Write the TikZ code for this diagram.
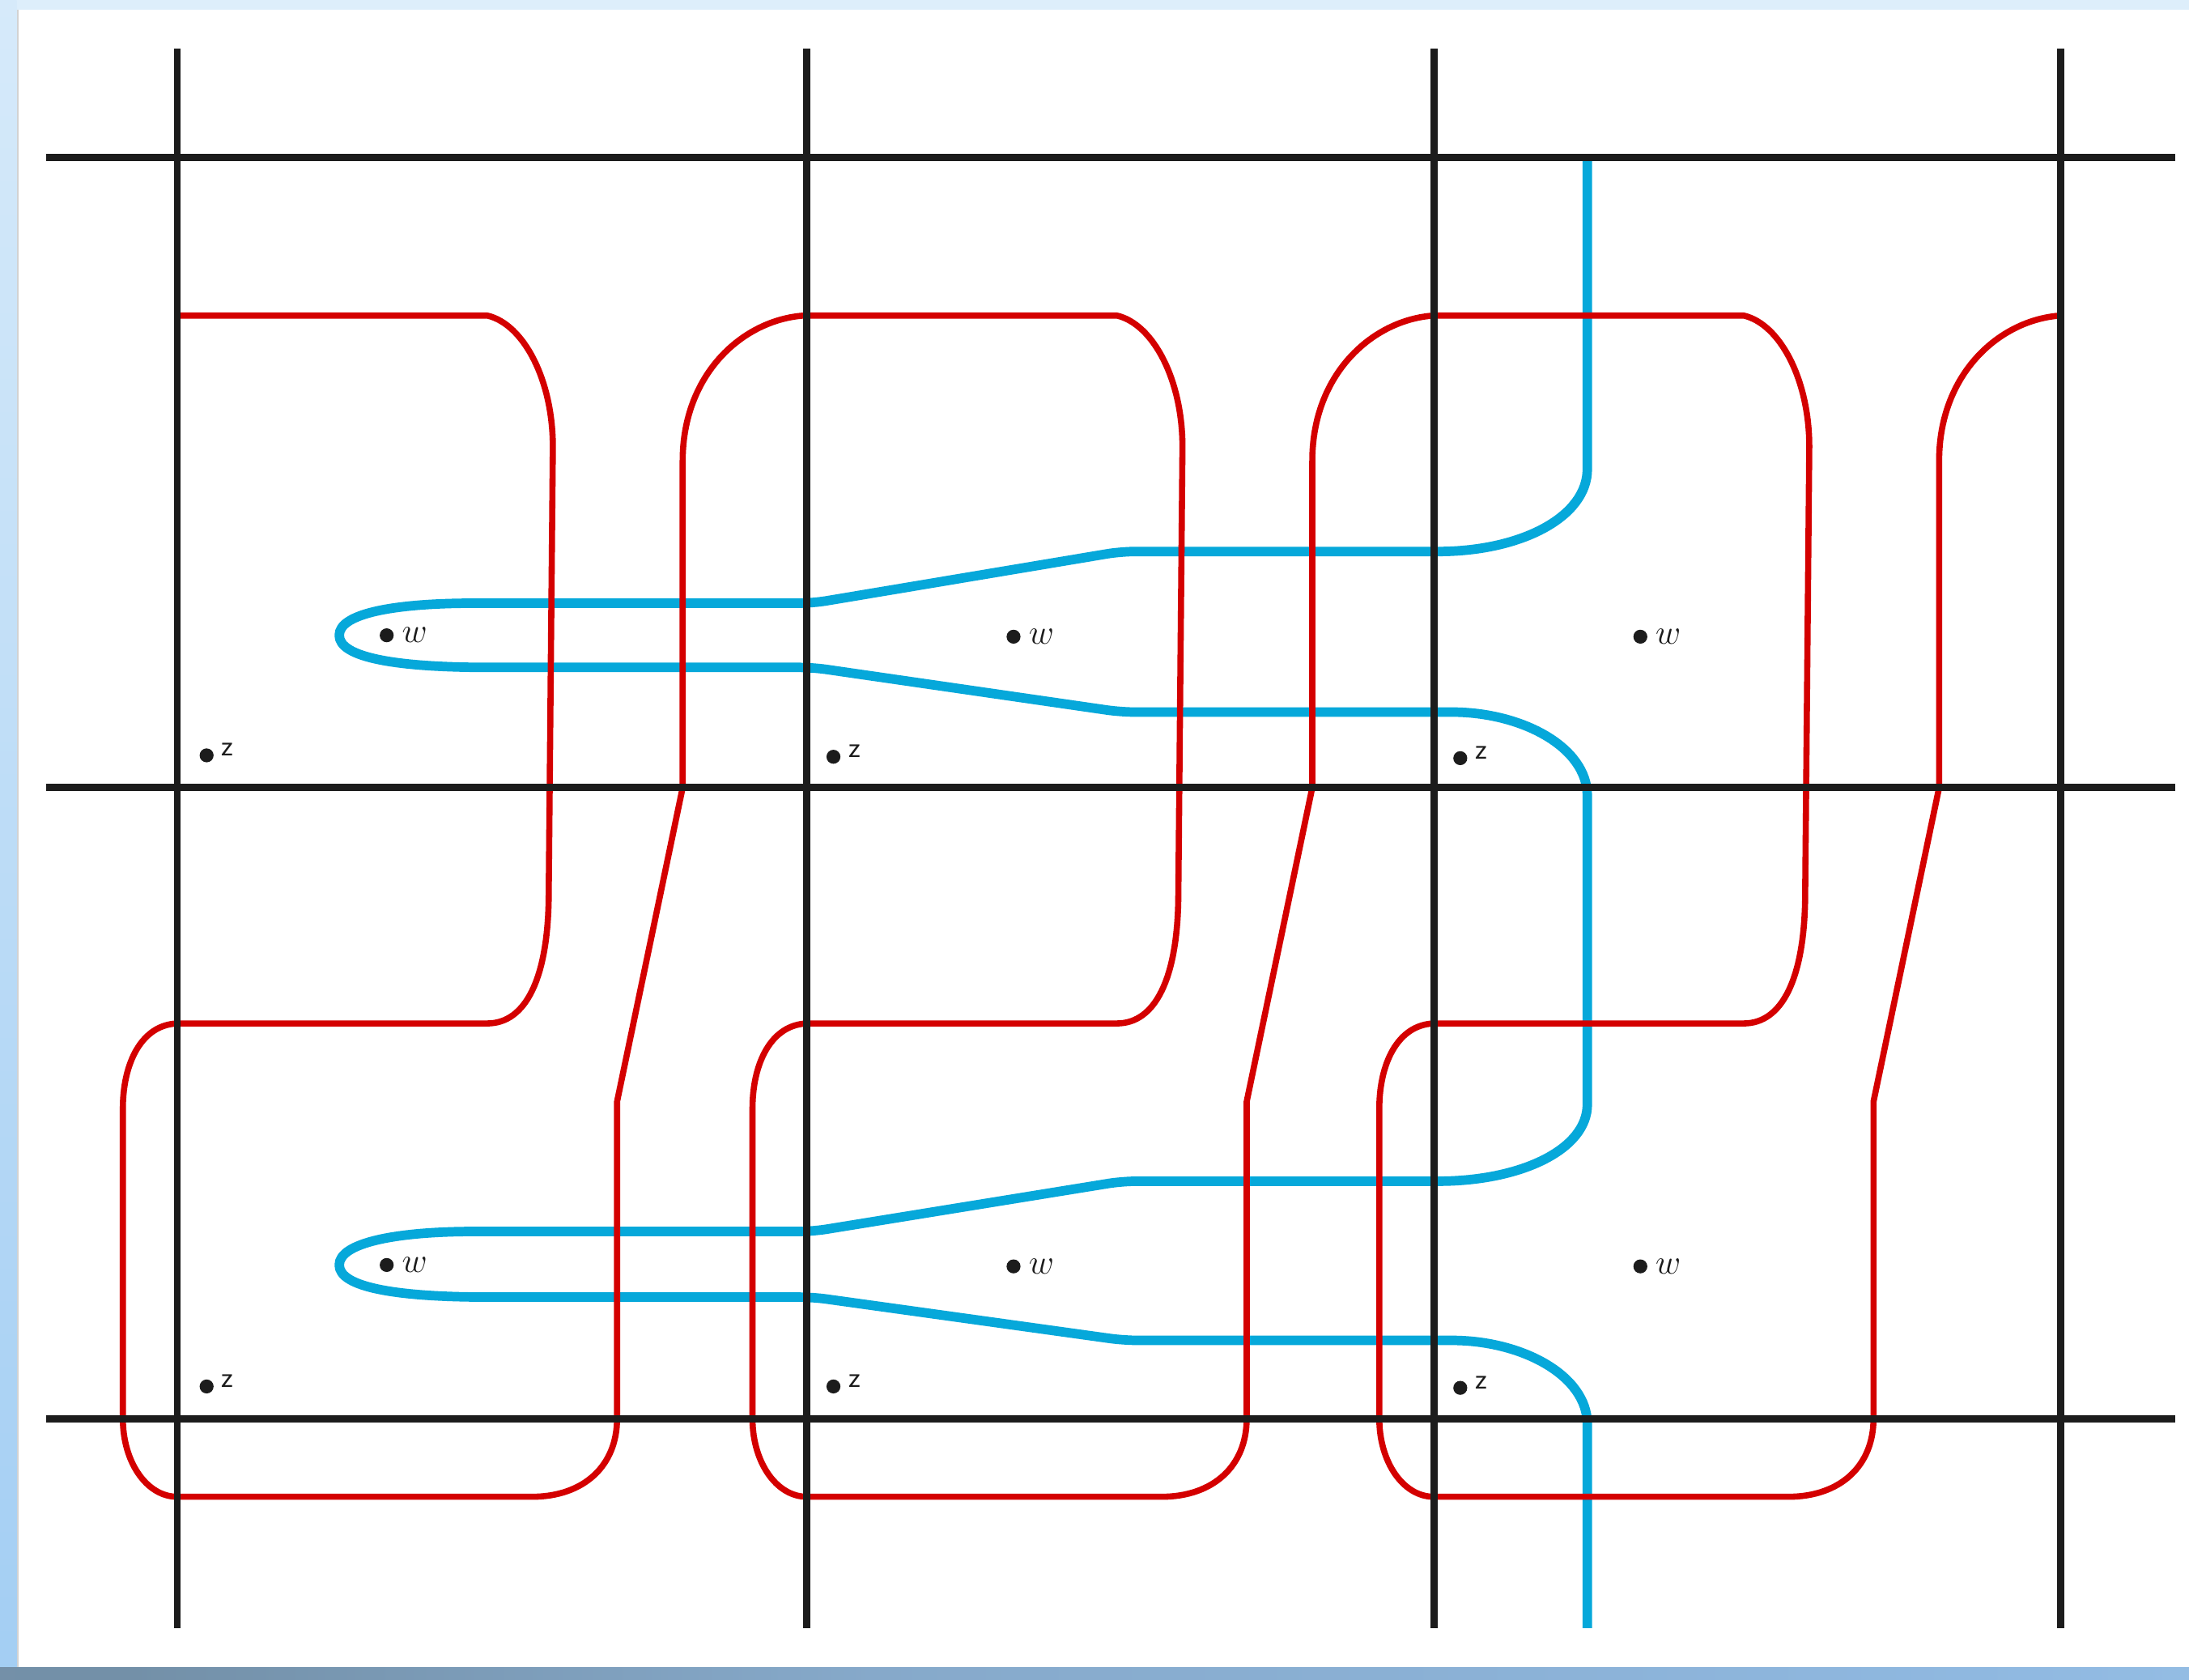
\documentclass[tikz,border=0pt]{standalone}
\usetikzlibrary{calc}
\definecolor{gridblack}{HTML}{1C1C1C}
\definecolor{curvered}{HTML}{D40000}
\definecolor{curveblue}{HTML}{06A8DA}
\definecolor{bandA}{HTML}{A9D3F5}
\definecolor{bandB}{HTML}{9BC0E0}
\definecolor{bandC}{HTML}{7692AA}
\definecolor{bandD}{HTML}{7390A8}
\definecolor{bandE}{HTML}{86A9CA}
\definecolor{bandF}{HTML}{8FB8E0}
\definecolor{bandG}{HTML}{A8D0F2}
\definecolor{topband}{HTML}{DDEEFB}
\definecolor{leftTop}{HTML}{D6EAFA}
\definecolor{leftBot}{HTML}{A3CEF3}
\pgfdeclarehorizontalshading{bottomband}{100bp}{color(0bp)=(bandA); color(3bp)=(bandB); color(12bp)=(bandC); color(28bp)=(bandD); color(45bp)=(bandE); color(70bp)=(bandF); color(100bp)=(bandG)}
\begin{document}
\begin{tikzpicture}[x=1pt,y=-1pt,
  gridline/.style={draw=gridblack,line width=5.2pt},
  redline/.style={draw=curvered,line width=4.4pt,line join=round},
  blueline/.style={draw=curveblue,line width=6.8pt,line join=round},
  dotnode/.style={circle,fill=gridblack,inner sep=0pt,minimum size=10pt},
  wlabel/.style={inner sep=0pt,font=\fontsize{25.5}{26}\selectfont,text=gridblack},
  zlabel/.style={inner sep=0pt,font=\fontsize{21}{21}\selectfont\sffamily,text=gridblack}]
\useasboundingbox (0,0) rectangle (1568,1203);
% frame
\fill[topband] (0,0) rectangle (1568,1203);
\shade[top color=leftTop,bottom color=leftBot] (0,0) rectangle (12,1203);
\fill[white] (12,7) rectangle (1568,1194);
\draw[gray!35,line width=1.2pt] (12.6,7) -- (12.6,1194);
\shade[shading=bottomband] (0,1194) rectangle (1568,1203);

% blue curve
\draw[blueline] (1137,113) -- (1137,336)
  .. controls (1137,370) and (1090,395) .. (1030,395)
  [rounded corners=10pt] -- (803,395) -- (582,432) -- (350,432) [sharp corners]
  .. controls (284,432) and (243,439) .. (243,455)
  .. controls (243,471) and (284,478) .. (350,478)
  [rounded corners=10pt] -- (582,478) -- (803,510) -- (1030,510) [sharp corners]
  .. controls (1090,510) and (1137,535) .. (1137,570)
  -- (1137,791)
  .. controls (1137,823) and (1090,846) .. (1030,846)
  [rounded corners=10pt] -- (804,846) -- (582,882) -- (350,882) [sharp corners]
  .. controls (284,882) and (243,890) .. (243,906)
  .. controls (243,922) and (284,929) .. (350,929)
  [rounded corners=10pt] -- (582,929) -- (805,960) -- (1030,960) [sharp corners]
  .. controls (1090,960) and (1137,985) .. (1137,1020)
  -- (1137,1166);

% red curve
\draw[redline] (127,226)
  \foreach \ox in {127,578,1027} {
    -- (\ox+222,226)
    .. controls (\ox+248,232) and (\ox+269,272) .. (\ox+269,320)
    -- (\ox+266,645)
    .. controls (\ox+265,700) and (\ox+250,733) .. (\ox+222,733)
    -- (\ox,733)
    .. controls (\ox-26,734) and (\ox-39,762) .. (\ox-39,794)
    -- (\ox-39,1016)
    .. controls (\ox-39,1047) and (\ox-22,1072) .. (\ox,1072)
    -- (\ox+254,1072)
    .. controls (\ox+291,1072) and (\ox+315,1050) .. (\ox+315,1016)
    -- (\ox+315,789)
    -- (\ox+362,564)
    -- (\ox+362,330)
    .. controls (\ox+362,268) and (\ox+405,229) .. (\ox+449,226)
  };

% grid
\foreach \x [count=\i] in {127,578,1027,1476} {
  \coordinate (vt\i) at (\x,35);
  \coordinate (vb\i) at (\x,1166);
  \draw[gridline] (vt\i) -- (vb\i);
}
\foreach \y [count=\j] in {113,564,1016} {
  \coordinate (hl\j) at (33,\y);
  \coordinate (hr\j) at (1558,\y);
  \draw[gridline] (hl\j) -- (hr\j);
}

% points w
\foreach \px/\py/\nm in {277/455/w1,726/456/w2,1175/456/w3,277/906/w4,726/907/w5,1175/907/w6} {
  \node[dotnode] (\nm) at (\px,\py) {};
  \node[wlabel] (\nm l) at (\px+20,\py) {$w$};
}
% points z
\foreach \px/\py/\nm in {148/541/z1,597/542/z2,1046/543/z3,148/993/z4,597/993/z5,1046/994/z6} {
  \node[dotnode] (\nm) at (\px,\py) {};
  \node[zlabel] (\nm l) at (\px+15,\py-4) {z};
}
\end{tikzpicture}
\end{document}
